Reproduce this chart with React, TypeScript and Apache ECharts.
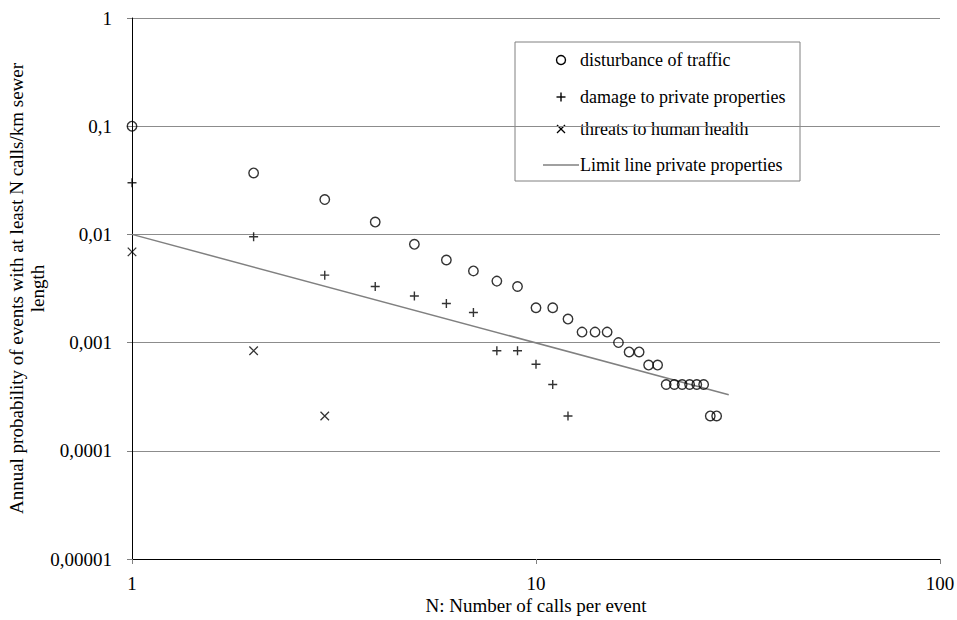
import React, { useEffect, useRef } from "react";
import * as echarts from "echarts";

// Number of calls per event (x) and annual probability (y)
const trafficN = [1, 2, 3, 4, 5, 6, 7, 8, 9, 10, 11, 12, 13, 14, 15, 16, 17, 18, 19, 20, 21, 22, 23, 24, 25, 26, 27, 28];
const trafficP = [0.1, 0.037, 0.021, 0.013, 0.0081, 0.0058, 0.0046, 0.0037, 0.0033, 0.0021, 0.0021, 0.00165, 0.00125, 0.00125, 0.00125, 0.001, 0.00082, 0.00082, 0.00062, 0.00062, 0.00041, 0.00041, 0.00041, 0.00041, 0.00041, 0.00041, 0.00021, 0.00021];

const propertyN = [1, 2, 3, 4, 5, 6, 7, 8, 9, 10, 11, 12];
const propertyP = [0.03, 0.0095, 0.0042, 0.0033, 0.0027, 0.0023, 0.0019, 0.00084, 0.00084, 0.00063, 0.00041, 0.00021];

const healthN = [1, 2, 3];
const healthP = [0.0069, 0.00084, 0.00021];

const limitN = [1, 30];
const limitP = [0.01, 0.00033];

const seriesNames = [
  "disturbance of traffic",
  "damage to private properties",
  "threats to human health",
  "Limit line private properties",
];

const yTickLabels = ["0,00001", "0,0001", "0,001", "0,01", "0,1", "1"];
const xTickLabels = ["1", "10", "100"];

const FONT = "Liberation Serif";
const PLUS = "path://M5,0L5,10M0,5L10,5";
const CROSS = "path://M0,0L10,10M10,0L0,10";

const pairs = (xs: number[], ys: number[]) => xs.map((x, i) => [x, ys[i]]);

export default function App() {
  const ref = useRef<HTMLDivElement>(null);

  useEffect(() => {
    document.body.style.margin = "0";
    const chart = echarts.init(ref.current!, null, { renderer: "svg" });

    const legendX = 515;
    const legendY = 42;
    const rowY = [60, 97, 129, 165];
    const markX = 561;
    const textX = 580;
    const textStyle = { fontFamily: FONT, fontSize: 18, fill: "#000" };

    chart.setOption({
      animation: false,
      backgroundColor: "#fff",
      grid: { left: 132, right: 17, top: 18, bottom: 61, containLabel: false, outerBoundsMode: "none" },
      xAxis: {
        type: "log",
        logBase: 10,
        min: 1,
        max: 100,
        name: "N: Number of calls per event",
        nameLocation: "middle",
        nameGap: 37,
        nameMoveOverlap: false,
        nameTextStyle: { fontFamily: FONT, fontSize: 19, color: "#000" },
        axisLine: { show: true, lineStyle: { color: "#000", width: 1 } },
        axisTick: { show: true, length: 5, lineStyle: { color: "#808080" } },
        minorTick: { show: false },
        splitLine: { show: false },
        axisLabel: {
          fontFamily: FONT,
          fontSize: 19,
          color: "#000",
          margin: 15,
          formatter: (v: number) => xTickLabels[Math.round(Math.log10(v))],
        },
      },
      yAxis: {
        type: "log",
        logBase: 10,
        min: 0.00001,
        max: 1,
        name: "Annual probability of events with at least N calls/km sewer\nlength",
        nameLocation: "middle",
        nameGap: 84,
        nameMoveOverlap: false,
        nameTextStyle: { fontFamily: FONT, fontSize: 19, color: "#000", lineHeight: 21, align: "center" },
        axisLine: { show: true, lineStyle: { color: "#000", width: 1 } },
        axisTick: { show: true, length: 5, lineStyle: { color: "#808080" } },
        splitLine: { show: true, lineStyle: { color: "#8c8c8c", width: 1 } },
        axisLabel: {
          fontFamily: FONT,
          fontSize: 19,
          color: "#000",
          margin: 20,
          formatter: (v: number) => yTickLabels[Math.round(Math.log10(v)) + 5],
        },
      },
      series: [
        {
          name: seriesNames[3],
          type: "line",
          data: pairs(limitN, limitP),
          showSymbol: false,
          lineStyle: { color: "#808080", width: 1.5 },
          z: 1,
        },
        {
          name: seriesNames[0],
          type: "scatter",
          data: pairs(trafficN, trafficP),
          symbol: "circle",
          symbolSize: 9.5,
          itemStyle: { color: "rgba(0,0,0,0)", borderColor: "#000", borderWidth: 1.4 },
          z: 3,
        },
        {
          name: seriesNames[1],
          type: "scatter",
          data: pairs(propertyN, propertyP),
          symbol: PLUS,
          symbolSize: 9,
          itemStyle: { color: "none", borderColor: "#000", borderWidth: 1.4 },
          z: 3,
        },
        {
          name: seriesNames[2],
          type: "scatter",
          data: pairs(healthN, healthP),
          symbol: CROSS,
          symbolSize: 8.5,
          itemStyle: { color: "none", borderColor: "#000", borderWidth: 1.3 },
          z: 3,
        },
      ],
      graphic: [
        {
          type: "group",
          z: 100,
          children: [
            {
              type: "rect",
              shape: { x: legendX, y: legendY, width: 285, height: 139 },
              style: { fill: "#fff", stroke: "#808080", lineWidth: 1 },
            },
            {
              type: "circle",
              shape: { cx: markX, cy: rowY[0], r: 4.5 },
              style: { fill: "none", stroke: "#000", lineWidth: 1.4 },
            },
            {
              type: "line",
              shape: { x1: markX - 4.5, y1: rowY[1], x2: markX + 4.5, y2: rowY[1] },
              style: { stroke: "#000", lineWidth: 1.4 },
            },
            {
              type: "line",
              shape: { x1: markX, y1: rowY[1] - 4.5, x2: markX, y2: rowY[1] + 4.5 },
              style: { stroke: "#000", lineWidth: 1.4 },
            },
            {
              type: "line",
              shape: { x1: markX - 4, y1: rowY[2] - 4, x2: markX + 4, y2: rowY[2] + 4 },
              style: { stroke: "#000", lineWidth: 1.3 },
            },
            {
              type: "line",
              shape: { x1: markX + 4, y1: rowY[2] - 4, x2: markX - 4, y2: rowY[2] + 4 },
              style: { stroke: "#000", lineWidth: 1.3 },
            },
            {
              type: "line",
              shape: { x1: 543, y1: rowY[3], x2: 579, y2: rowY[3] },
              style: { stroke: "#808080", lineWidth: 1.5 },
            },
            ...seriesNames.map((name, i) => ({
              type: "text",
              x: textX,
              y: rowY[i],
              style: { ...textStyle, text: name, verticalAlign: "middle" },
            })),
          ],
        },
      ],
    });

    return () => chart.dispose();
  }, []);

  return <div ref={ref} style={{ position: "fixed", left: 0, top: 0, width: 957, height: 620 }} />;
}
